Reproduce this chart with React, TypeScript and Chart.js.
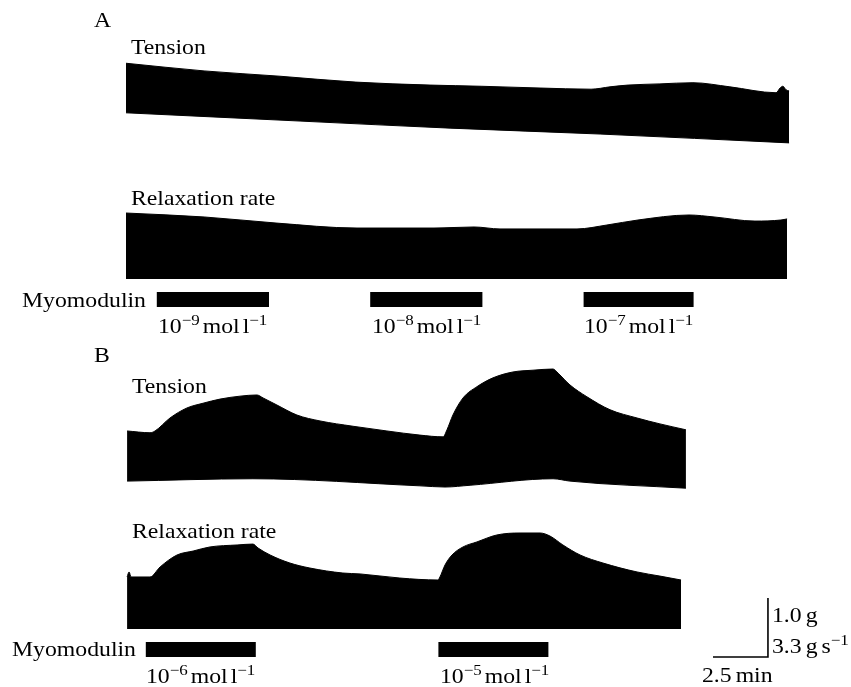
import React, { useEffect, useRef } from "react";
import { Chart, registerables } from "chart.js";

Chart.register(...registerables);

// ---------- data (time in minutes from the start of each record) ----------
// Panel A – tension (g): upper envelope (peak) and lower envelope (resting)
const A_TENSION_TOP_T = [0, 3.55, 7.0, 10.45, 13.82, 16.14, 18.82, 21.14, 22.0, 22.82, 24.27, 25.77, 27.45, 29.55, 29.73, 29.86, 30.0, 30.14];
const A_TENSION_TOP_G = [1.64, 1.51, 1.42, 1.32, 1.27, 1.25, 1.22, 1.2, 1.24, 1.27, 1.29, 1.31, 1.24, 1.14, 1.22, 1.25, 1.19, 1.17];
const A_TENSION_LOW_T = [0, 7.91, 14.73, 21.55, 30.14];
const A_TENSION_LOW_G = [0.8, 0.66, 0.54, 0.44, 0.29];

// Panel A – relaxation rate (g s^-1)
const A_RELAX_T = [0, 3.55, 6.82, 10.5, 14.0, 15.82, 17.0, 20.5, 21.86, 23.27, 25.59, 26.73, 28.59, 29.77, 30.05];
const A_RELAX_V = [3.69, 3.47, 3.13, 2.85, 2.85, 2.91, 2.8, 2.8, 3.02, 3.3, 3.58, 3.47, 3.24, 3.3, 3.36];

// Panel B – tension (g)
const B_TENSION_TOP_T = [0.05, 1.09, 1.32, 2.0, 2.77, 3.5, 4.27, 5.18, 5.95, 6.23, 6.86, 7.77, 8.82, 10.32, 11.86, 13.36, 14.41, 14.59, 14.86, 15.32, 15.95, 16.68, 17.59, 18.5, 19.41, 19.64, 20.18, 20.95, 22.0, 23.23, 24.27, 25.45];
const B_TENSION_TOP_G = [1.17, 1.14, 1.17, 1.39, 1.56, 1.64, 1.71, 1.76, 1.78, 1.73, 1.61, 1.44, 1.34, 1.25, 1.17, 1.1, 1.07, 1.19, 1.44, 1.73, 1.92, 2.07, 2.17, 2.2, 2.22, 2.15, 1.95, 1.75, 1.53, 1.39, 1.29, 1.19];
const B_TENSION_LOW_T = [0.05, 5.77, 13.36, 14.5, 15.64, 19.41, 20.18, 25.45];
const B_TENSION_LOW_G = [0.32, 0.36, 0.24, 0.22, 0.25, 0.36, 0.32, 0.2];

// Panel B – relaxation rate (g s^-1)
const B_RELAX_T = [0.05, 0.14, 0.23, 1.09, 1.55, 2.32, 3.05, 3.82, 5.05, 5.77, 6.0, 6.55, 7.45, 8.36, 9.86, 10.64, 12.45, 14.18, 14.27, 14.5, 14.82, 15.32, 15.95, 16.86, 17.91, 18.82, 19.27, 19.86, 20.64, 21.68, 23.23, 24.27, 25.23];
const B_RELAX_V = [2.91, 3.19, 2.91, 2.91, 3.47, 4.14, 4.36, 4.59, 4.7, 4.75, 4.53, 4.14, 3.69, 3.41, 3.13, 3.08, 2.85, 2.74, 2.91, 3.58, 4.14, 4.59, 4.87, 5.26, 5.37, 5.37, 5.2, 4.7, 4.14, 3.69, 3.19, 2.96, 2.74];

// Myomodulin applications (start, end in min)
const A_DOSE_START = [1.4, 11.1, 20.8];
const A_DOSE_END = [6.5, 16.2, 25.8];
const A_DOSE_EXP = ["−9", "−8", "−7"];
const B_DOSE_START = [0.9, 14.2];
const B_DOSE_END = [5.9, 19.2];
const B_DOSE_EXP = ["−6", "−5"];

// Calibration bar
const CAL_TIME_MIN = 2.5;
const CAL_TENSION_G = 1.0;
const CAL_RELAX_LABEL = "3.3";

// ---------- layout ----------
const W = 851;
const H = 687;
const PX_PER_MIN = 22;
const X0_PX = 126;
const PX_PER_G = 59;
const PX_PER_GS = 59 / 3.3;
const FONT = '"Liberation Serif","Times New Roman",Times,serif';
const SX = 1.13;

const pts = (xs: number[], ys: number[]) => xs.map((x, i) => ({ x, y: ys[i] }));
const axisFor = (zeroPx: number, pxPerUnit: number) => ({
  type: "linear" as const,
  display: false,
  min: -(H - zeroPx) / pxPerUnit,
  max: zeroPx / pxPerUnit,
});

type Part = { t: string; sup?: boolean; gap?: number };
const conc = (exp: string): Part[] => [
  { t: "10" },
  { t: exp, sup: true, gap: 3 },
  { t: "mol", gap: 3 },
  { t: "l" },
  { t: "−1", sup: true },
];

const LABELS: { x: number; y: number; parts: Part[] }[] = [
  { x: 94, y: 27, parts: [{ t: "A" }] },
  { x: 131, y: 54, parts: [{ t: "Tension" }] },
  { x: 131, y: 205, parts: [{ t: "Relaxation rate" }] },
  { x: 22, y: 307, parts: [{ t: "Myomodulin" }] },
  { x: 158, y: 333, parts: conc(A_DOSE_EXP[0]) },
  { x: 372, y: 333, parts: conc(A_DOSE_EXP[1]) },
  { x: 584, y: 333, parts: conc(A_DOSE_EXP[2]) },
  { x: 94, y: 362, parts: [{ t: "B" }] },
  { x: 132, y: 393, parts: [{ t: "Tension" }] },
  { x: 132, y: 538, parts: [{ t: "Relaxation rate" }] },
  { x: 12, y: 656, parts: [{ t: "Myomodulin" }] },
  { x: 146, y: 683, parts: conc(B_DOSE_EXP[0]) },
  { x: 440, y: 683, parts: conc(B_DOSE_EXP[1]) },
  { x: 772, y: 622, parts: [{ t: CAL_TENSION_G.toFixed(1), gap: 4 }, { t: "g" }] },
  { x: 772, y: 653, parts: [{ t: CAL_RELAX_LABEL, gap: 4 }, { t: "g", gap: 4 }, { t: "s" }, { t: "−1", sup: true }] },
  { x: 702, y: 682, parts: [{ t: String(CAL_TIME_MIN), gap: 4 }, { t: "min" }] },
];

const textPlugin = {
  id: "figText",
  afterDatasetsDraw(chart: any) {
    const ctx = chart.ctx as CanvasRenderingContext2D;
    ctx.save();
    ctx.fillStyle = "#000";
    ctx.textBaseline = "alphabetic";
    ctx.textAlign = "left";
    for (const lab of LABELS) {
      let cx = lab.x;
      for (const p of lab.parts) {
        const size = p.sup ? 15 : 21;
        ctx.font = `${size}px ${FONT}`;
        const dy = p.sup ? -8 : 0;
        ctx.save();
        ctx.translate(cx, lab.y + dy);
        ctx.scale(SX, 1);
        ctx.fillText(p.t, 0, 0);
        ctx.restore();
        cx += ctx.measureText(p.t).width * SX + (p.gap || 0);
      }
    }
    ctx.restore();
  },
};

export default function App() {
  const ref = useRef<HTMLCanvasElement | null>(null);

  useEffect(() => {
    document.body.style.margin = "0";
    const canvas = ref.current;
    if (!canvas) return;

    const band = (data: any[], axis: string, fill: any) => ({
      data,
      yAxisID: axis,
      borderColor: "#000",
      backgroundColor: "#000",
      borderWidth: 1,
      pointRadius: 0,
      cubicInterpolationMode: "monotone" as const,
      fill,
    });
    const doseBars = (starts: number[], ends: number[], level: number) =>
      starts.map((s, i) => ({
        data: [
          { x: s, y: level },
          { x: ends[i], y: level },
        ],
        yAxisID: "yStim",
        borderColor: "#000",
        borderWidth: 15,
        borderCapStyle: "butt" as const,
        pointRadius: 0,
        fill: false,
      }));

    const calEnd = 29.18;
    const datasets: any[] = [
      band(pts(A_TENSION_TOP_T, A_TENSION_TOP_G), "yTA", "+1"),
      band(pts(A_TENSION_LOW_T, A_TENSION_LOW_G), "yTA", false),
      band(pts(A_RELAX_T, A_RELAX_V), "yRA", "origin"),
      band(pts(B_TENSION_TOP_T, B_TENSION_TOP_G), "yTB", "+1"),
      band(pts(B_TENSION_LOW_T, B_TENSION_LOW_G), "yTB", false),
      band(pts(B_RELAX_T, B_RELAX_V), "yRB", "origin"),
      ...doseBars(A_DOSE_START, A_DOSE_END, 1),
      ...doseBars(B_DOSE_START, B_DOSE_END, 0),
      {
        data: [
          { x: calEnd - CAL_TIME_MIN, y: 0 },
          { x: calEnd, y: 0 },
          { x: calEnd, y: CAL_TENSION_G },
        ],
        yAxisID: "yCal",
        borderColor: "#000",
        borderWidth: 1.6,
        pointRadius: 0,
        fill: false,
      },
    ];

    const chart = new Chart(canvas, {
      type: "line",
      data: { datasets },
      options: {
        animation: false,
        responsive: false,
        devicePixelRatio: 1,
        layout: { padding: 0 },
        plugins: { legend: { display: false }, tooltip: { enabled: false } },
        scales: {
          x: {
            type: "linear",
            display: false,
            min: -X0_PX / PX_PER_MIN,
            max: (W - X0_PX) / PX_PER_MIN,
          },
          yTA: axisFor(160, PX_PER_G),
          yRA: axisFor(279, PX_PER_GS),
          yTB: axisFor(500, PX_PER_G),
          yRB: axisFor(629, PX_PER_GS),
          yStim: axisFor(649.5, 350),
          yCal: axisFor(657, PX_PER_G),
        } as any,
      },
      plugins: [textPlugin],
    });
    return () => chart.destroy();
  }, []);

  return (
    <div style={{ position: "absolute", left: 0, top: 0, width: W, height: H, background: "#fff" }}>
      <canvas ref={ref} width={W} height={H} style={{ display: "block", width: W, height: H }} />
    </div>
  );
}
